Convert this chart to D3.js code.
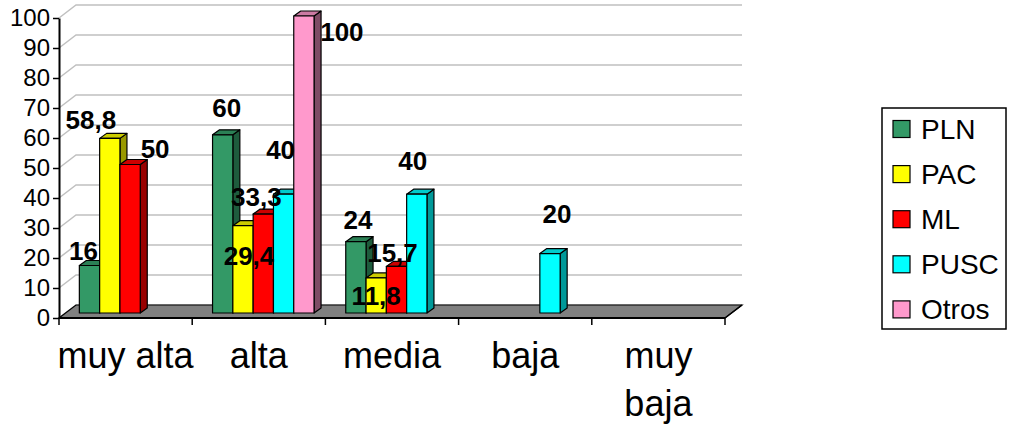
<!DOCTYPE html>
<html><head><meta charset="utf-8">
<script src="https://cdn.jsdelivr.net/npm/d3@7"></script>
<style>
html,body{margin:0;padding:0;background:#fff;}
svg{display:block;font-family:Arial,"Liberation Sans",sans-serif;}
</style></head>
<body><svg id="c" width="1009" height="426"></svg>
<script>
// ---- data ----
const categories = ["muy alta", "alta", "media", "baja", "muy baja"];
const categoryLines = [["muy alta"], ["alta"], ["media"], ["baja"], ["muy", "baja"]];
const series = ["PLN", "PAC", "ML", "PUSC", "Otros"];
const PLN   = [16, 60, 24, null, null];
const PAC   = [58.8, 29.4, 11.8, null, null];
const ML    = [50, 33.3, 15.7, null, null];
const PUSC  = [null, 40, 40, 20, null];
const Otros = [null, 100, null, null, null];
const valueLabels = {
  PLN: ["16", "60", "24", null, null],
  PAC: ["58,8", "29,4", "11,8", null, null],
  ML: ["50", "33,3", "15,7", null, null],
  PUSC: [null, "40", "40", "20", null],
  Otros: [null, "100", null, null, null]
};
const yTicks = [0, 10, 20, 30, 40, 50, 60, 70, 80, 90, 100];

// ---- styles / layout (not data) ----
const faceColors = {PLN: "#339966", PAC: "#ffff00", ML: "#ff0000", PUSC: "#00ffff", Otros: "#ff99cc"};
const sideColors = {PLN: "#1e5c3d", PAC: "#999900", ML: "#990000", PUSC: "#009999", Otros: "#7f4c66"};
const topColors  = {PLN: "#2b8055", PAC: "#cccc00", ML: "#cc0000", PUSC: "#00cccc", Otros: "#cc7aa3"};
// label nudges relative to the top centre of each bar's front face
const labelOffsets = {
  PLN: [[-6, -15], [4, -27], [2, -22], null, null],
  PAC: [[-19, -19], [6, 30], [0, 18], null, null],
  ML: [[25, -16], [-7, -17], [-4, -14], null, null],
  PUSC: [null, [-3, -45], [-4, -34], [7, -40], null],
  Otros: [null, [38, 16], null, null, null]
};
const seriesData = {PLN, PAC, ML, PUSC, Otros};

const left = 59, right = 725, floorY = 318;
const depthDx = 17, depthDy = -13;
const barDx = 4.5, barBase = 313;
const barSideDx = 7, barSideDy = -5;

const svg = d3.select("#c");

const x0 = d3.scaleBand().domain(categories).range([left, right]).paddingInner(0.238).paddingOuter(0.119);
const x1 = d3.scaleBand().domain(series).range([0, x0.bandwidth()]);
const yAxisScale = d3.scaleLinear().domain([0, 100]).range([floorY, 18]);
const yBar = d3.scaleLinear().domain([0, 100]).range([barBase, 16]);

// gridlines (side wall + back wall)
const grid = svg.append("g");
yTicks.forEach(v => {
  const yy = yAxisScale(v);
  grid.append("polyline")
    .attr("points", `${left},${yy} ${left + depthDx},${yy + depthDy} ${right + depthDx},${yy + depthDy}`)
    .attr("fill", "none").attr("stroke", "#c0c0c0").attr("stroke-width", 1.5);
});

// floor
svg.append("polygon")
  .attr("points", `${left},${floorY} ${right},${floorY} ${right + depthDx},${floorY + depthDy} ${left + depthDx},${floorY + depthDy}`)
  .attr("fill", "#808080").attr("stroke", "#000").attr("stroke-width", 1.2);

// bars
const bars = svg.append("g");
categories.forEach((c, ci) => {
  series.forEach(s => {
    const v = seriesData[s][ci];
    if (v == null) return;
    const xl = x0(c) + x1(s) + barDx;
    const w = x1.bandwidth();
    const yt = yBar(v);
    const g = bars.append("g").attr("stroke", "#000").attr("stroke-width", 1.2).attr("stroke-linejoin", "round");
    g.append("polygon")
      .attr("points", `${xl + w},${barBase} ${xl + w + barSideDx},${barBase + barSideDy} ${xl + w + barSideDx},${yt + barSideDy} ${xl + w},${yt}`)
      .attr("fill", sideColors[s]);
    g.append("polygon")
      .attr("points", `${xl},${yt} ${xl + w},${yt} ${xl + w + barSideDx},${yt + barSideDy} ${xl + barSideDx},${yt + barSideDy}`)
      .attr("fill", topColors[s]);
    g.append("rect").attr("x", xl).attr("y", yt).attr("width", w).attr("height", barBase - yt)
      .attr("fill", faceColors[s]);
  });
});

// x axis line and ticks
svg.append("line").attr("x1", left).attr("x2", right).attr("y1", floorY).attr("y2", floorY)
  .attr("stroke", "#000").attr("stroke-width", 2);
const step = x0.step();
d3.range(categories.length + 1).forEach(i => {
  const xx = left + i * step;
  svg.append("line").attr("x1", xx).attr("x2", xx).attr("y1", floorY).attr("y2", floorY + 7)
    .attr("stroke", "#000").attr("stroke-width", 1.5);
});
svg.append("line").attr("x1", right).attr("y1", floorY).attr("x2", right + depthDx).attr("y2", floorY + depthDy)
  .attr("stroke", "#000").attr("stroke-width", 1.5);

// category labels
categories.forEach((c, ci) => {
  const cx = x0(c) + x0.bandwidth() / 2;
  const t = svg.append("text").attr("x", cx).attr("y", 368).attr("text-anchor", "middle")
    .attr("font-size", 36).attr("fill", "#000");
  categoryLines[ci].forEach((ln, li) => {
    t.append("tspan").attr("x", cx).attr("dy", li === 0 ? 0 : 48).text(ln);
  });
});

// y axis
const yAxis = d3.axisLeft(yAxisScale).tickValues(yTicks).tickSize(6).tickSizeOuter(0).tickPadding(3);
const ya = svg.append("g").attr("transform", `translate(${left},0)`).call(yAxis);
ya.select(".domain").attr("stroke", "#000").attr("stroke-width", 2);
ya.selectAll(".tick line").attr("stroke", "#000").attr("stroke-width", 1.5);
ya.selectAll(".tick text").attr("font-size", 24).attr("font-family", "Arial,'Liberation Sans',sans-serif").attr("fill", "#000");

// value labels
const lab = svg.append("g");
categories.forEach((c, ci) => {
  series.forEach(s => {
    const v = seriesData[s][ci];
    const txt = valueLabels[s][ci];
    if (v == null || txt == null) return;
    const off = labelOffsets[s][ci] || [0, -15];
    const cx = x0(c) + x1(s) + barDx + x1.bandwidth() / 2;
    lab.append("text").attr("x", cx + off[0]).attr("y", yBar(v) + off[1]).attr("dy", "0.36em")
      .attr("text-anchor", "middle").attr("font-size", 26).attr("font-weight", "bold").attr("fill", "#000")
      .text(txt);
  });
});

// legend
const lg = svg.append("g");
lg.append("rect").attr("x", 882).attr("y", 108).attr("width", 124).attr("height", 221)
  .attr("fill", "#fff").attr("stroke", "#000").attr("stroke-width", 1.5);
series.forEach((s, i) => {
  const cy = 129 + i * 45.1;
  lg.append("rect").attr("x", 893).attr("y", cy - 8.5).attr("width", 17).attr("height", 17)
    .attr("fill", faceColors[s]).attr("stroke", "#000").attr("stroke-width", 1.2);
  lg.append("text").attr("x", 921).attr("y", cy).attr("dy", "0.36em").attr("font-size", 28)
    .attr("fill", "#000").text(s);
});
</script></body></html>
